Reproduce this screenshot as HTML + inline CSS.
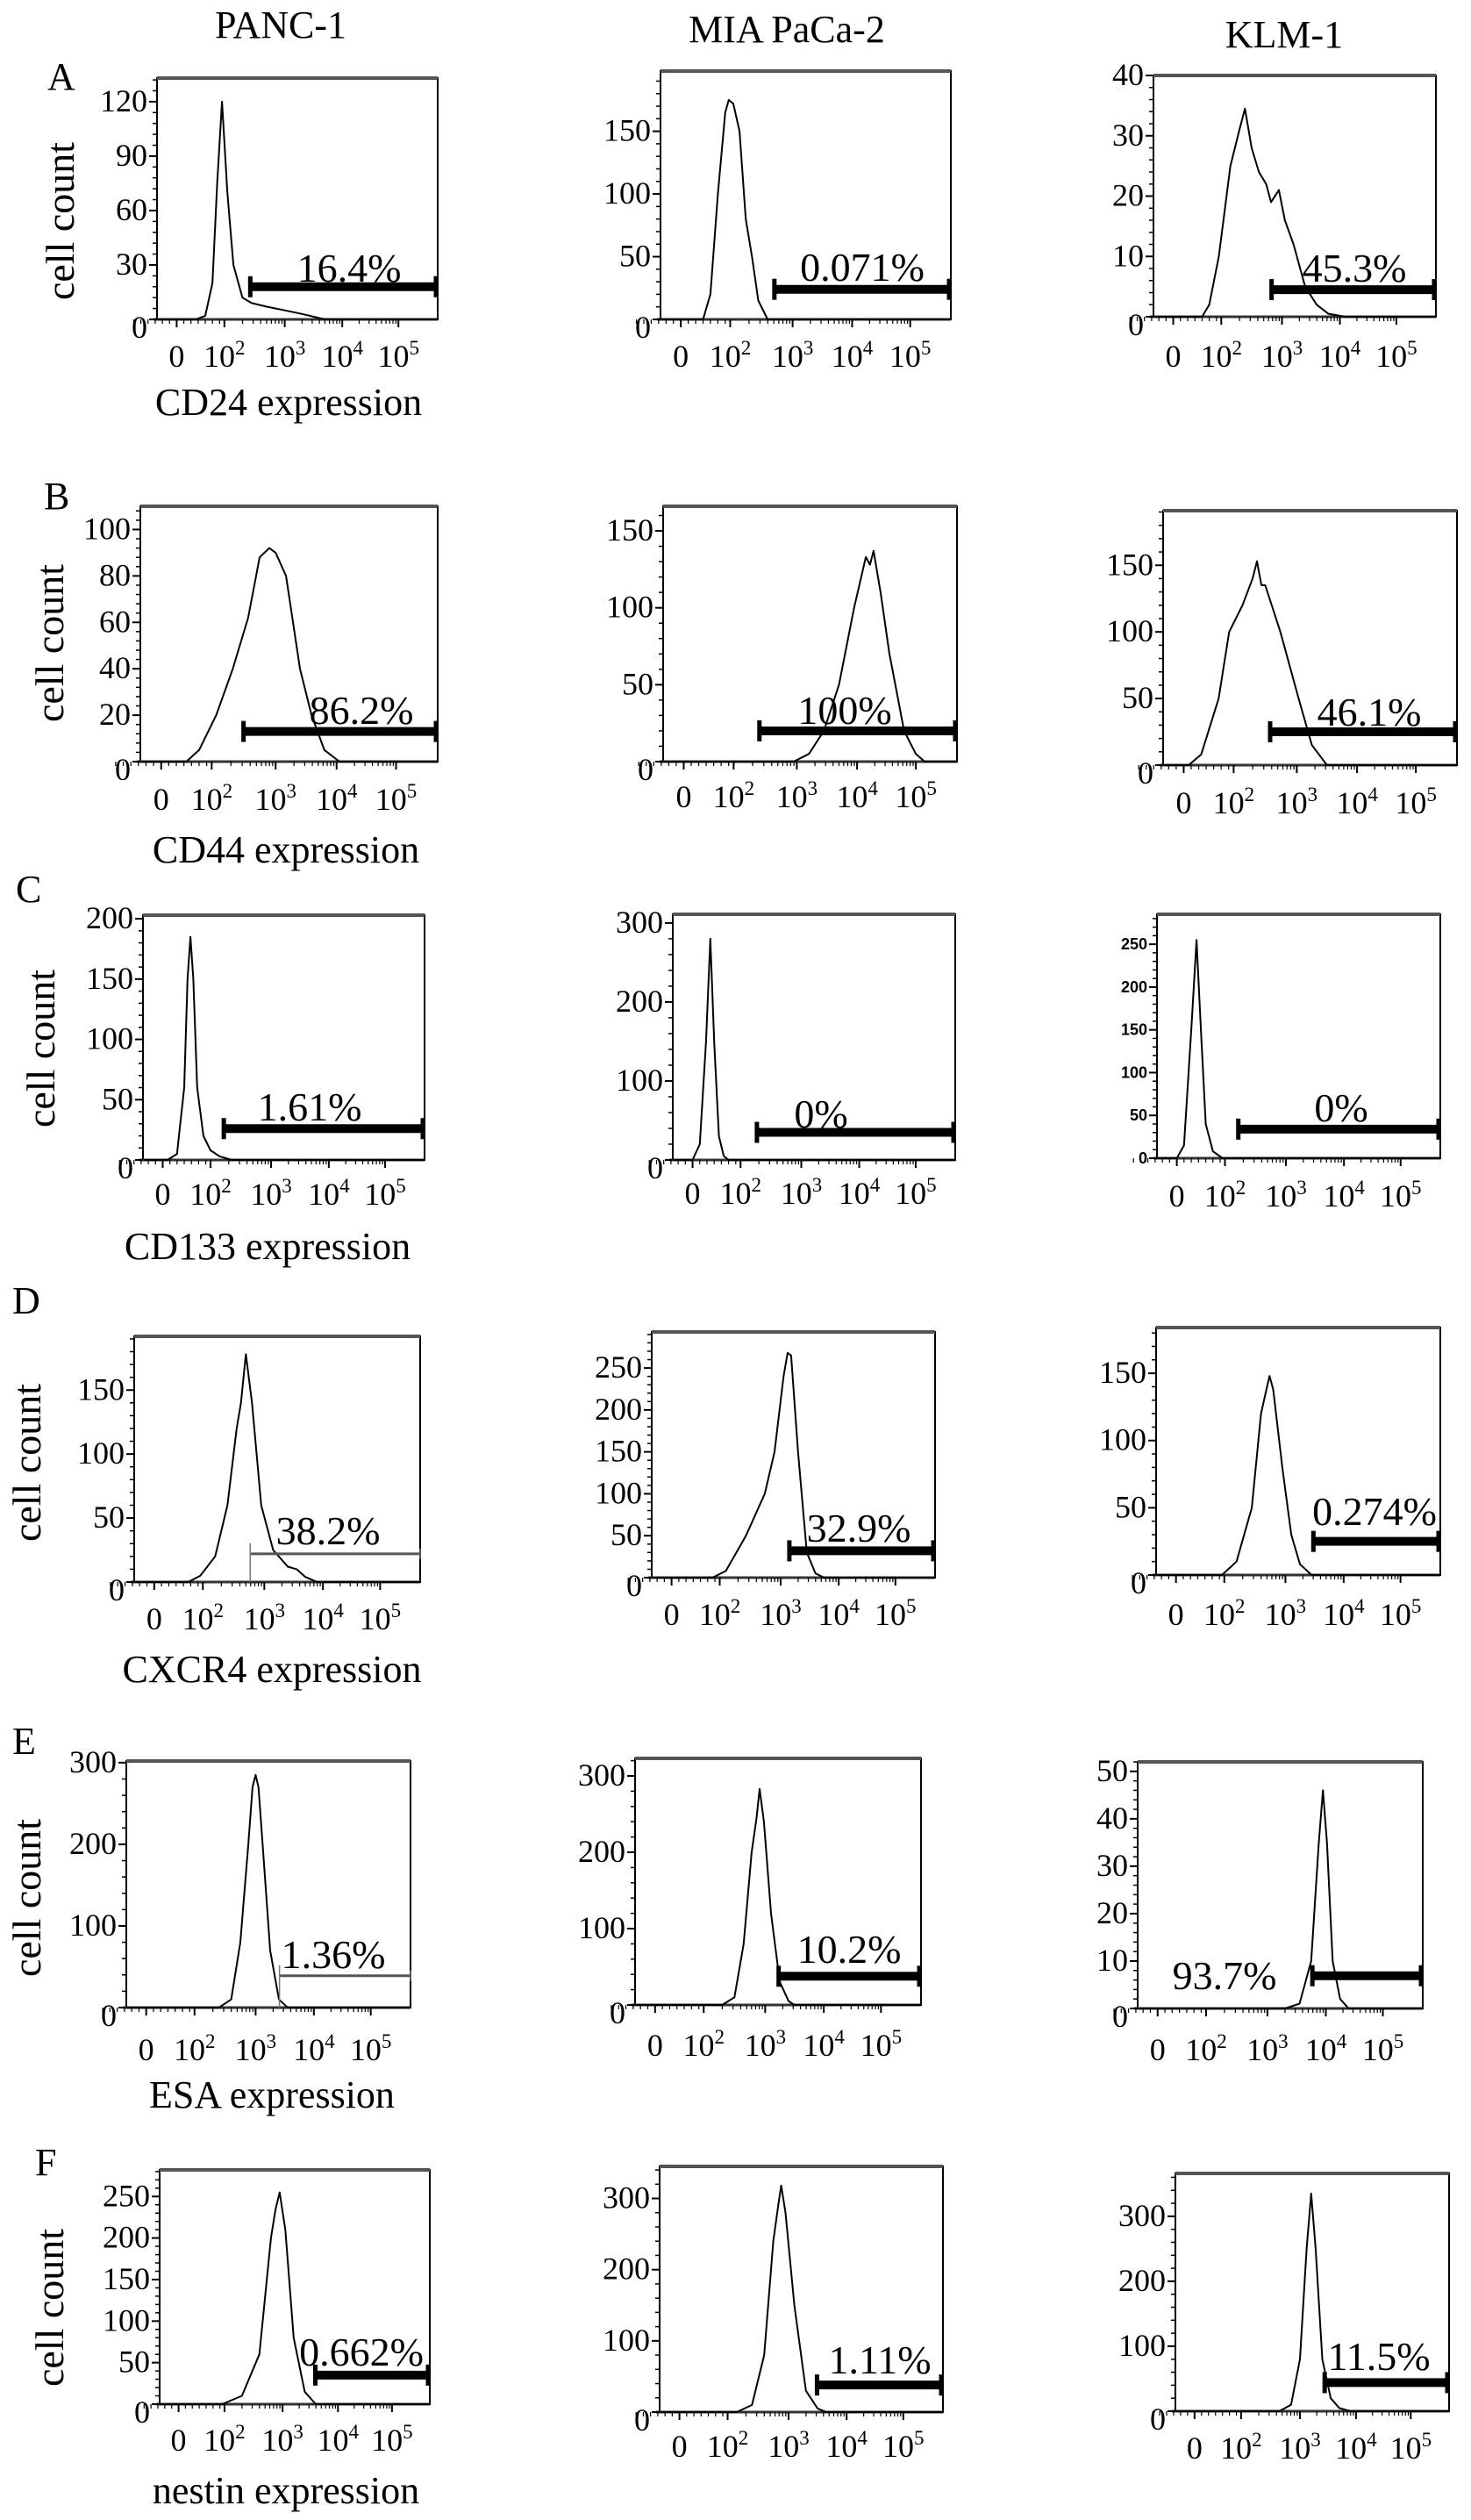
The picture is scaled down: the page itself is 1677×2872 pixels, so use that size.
<!DOCTYPE html>
<html><head><meta charset="utf-8">
<style>
html,body{margin:0;padding:0;background:#fff;}
svg{display:block;font-family:"Liberation Serif",serif;}
text,tspan{font-family:"Liberation Serif",serif;}
text.sans{font-family:"Liberation Sans",sans-serif;}
</style></head>
<body>
<svg id="fig" xmlns="http://www.w3.org/2000/svg" width="1677" height="2872" viewBox="0 0 1677 2872" font-family="Liberation Serif, serif">
<rect width="1677" height="2872" fill="#fff"/>
<g font-size="44" text-anchor="middle">
<text x="320" y="43">PANC-1</text>
<text x="897" y="48">MIA PaCa-2</text>
<text x="1464" y="54">KLM-1</text>
</g>
<g font-size="44">
<text x="54" y="102">A</text>
<text x="50" y="580">B</text>
<text x="18" y="1028">C</text>
<text x="14" y="1497">D</text>
<text x="14" y="1999">E</text>
<text x="40" y="2479">F</text>
</g>
<g font-size="44" text-anchor="middle">
<text x="329" y="473">CD24 expression</text>
<text x="326" y="983">CD44 expression</text>
<text x="305" y="1435">CD133 expression</text>
<text x="310" y="1917">CXCR4 expression</text>
<text x="310" y="2402">ESA expression</text>
<text x="326" y="2853">nestin expression</text>
</g>
<g font-size="46" text-anchor="middle">
<text transform="translate(84,252) rotate(-90)">cell count</text>
<text transform="translate(72,733) rotate(-90)">cell count</text>
<text transform="translate(62,1195) rotate(-90)">cell count</text>
<text transform="translate(46,1667) rotate(-90)">cell count</text>
<text transform="translate(46,2163) rotate(-90)">cell count</text>
<text transform="translate(72,2630) rotate(-90)">cell count</text>
</g>
<g id="plots"></g>
</svg>
<script>
const xTickLabels = ["0","10|2","10|3","10|4","10|5"];
const A1_x=[-0.4,0.4,0.6,0.75,0.85,0.95,1.05,1.15,1.3,1.45,1.7,2.0,2.3,2.7,4.7];
const A1_y=[0,0,2,20,75,120,70,30,12,9,7,5,3,0,0];
const A2_x=[-0.4,0.45,0.6,0.75,0.9,0.97,1.05,1.15,1.25,1.35,1.45,1.6,4.7];
const A2_y=[0,0,20,100,165,175,172,150,80,50,15,0,0];
const A3_x=[-0.4,0.6,0.75,0.95,1.15,1.3,1.39,1.5,1.62,1.74,1.82,1.95,2.05,2.2,2.4,2.6,2.8,3.1,4.7];
const A3_y=[0,0,2,10,25,31,34.5,28,24,22,19,21,16,12,5,2,0.5,0,0];
const B1_x=[-0.4,0.5,0.75,1.07,1.33,1.57,1.75,1.9,2.0,2.17,2.4,2.59,2.8,3.05,4.7];
const B1_y=[0,0,5,20,40,62,88,92,90,80,40,20,5,0,0];
const B2_x=[-0.4,1.95,2.2,2.45,2.7,2.95,3.15,3.22,3.28,3.4,3.55,3.65,3.8,4.0,4.15,4.7];
const B2_y=[0,0,5,20,50,100,133,128,137,110,70,50,20,5,0,0];
const B3_x=[-0.4,0.1,0.35,0.7,0.91,1.14,1.3,1.37,1.44,1.5,1.74,2.03,2.25,2.5,4.7];
const B3_y=[0,0,8,50,100,120,140,153,135,135,100,50,15,0,0];
const C1_x=[-0.4,0.1,0.3,0.45,0.52,0.58,0.64,0.72,0.85,1.0,1.15,1.35,4.7];
const C1_y=[0,0,5,60,150,185,150,60,20,8,3,0,0];
const C2_x=[-0.4,0.0,0.15,0.28,0.37,0.45,0.55,0.65,0.75,4.7];
const C2_y=[0,0,20,150,280,150,30,5,0,0];
const C3_x=[-0.4,0.0,0.15,0.3,0.41,0.5,0.6,0.75,0.95,4.7];
const C3_y=[0,0,15,150,255,150,40,8,0,0];
const D1_x=[-0.4,0.7,0.95,1.2,1.4,1.55,1.62,1.7,1.8,1.95,2.15,2.4,2.55,2.7,2.9,4.7];
const D1_y=[0,0,5,20,60,120,140,178,140,60,25,12,10,4,0,0];
const D2_x=[-0.4,0.85,1.1,1.43,1.74,1.9,2.05,2.12,2.18,2.3,2.45,2.6,2.75,4.7];
const D2_y=[0,0,8,50,100,150,240,268,265,150,30,5,0,0];
const D3_x=[-0.4,0.95,1.2,1.45,1.6,1.7,1.74,1.8,1.95,2.1,2.25,2.45,4.7];
const D3_y=[0,0,10,50,120,140,148,138,80,30,8,0,0];
const E1_x=[-0.4,1.4,1.6,1.75,1.88,1.95,2.0,2.05,2.12,2.25,2.4,2.55,4.7];
const E1_y=[0,0,10,80,200,270,285,270,200,70,10,0,0];
const E2_x=[-0.4,1.3,1.5,1.65,1.78,1.86,1.91,1.98,2.1,2.25,2.4,2.5,4.7];
const E2_y=[0,0,10,80,200,245,283,240,120,30,5,0,0];
const E3_x=[-0.4,2.3,2.55,2.75,2.88,2.95,3.02,3.12,3.25,3.4,4.7];
const E3_y=[0,0,1,10,35,46,35,10,2,0,0];
const F1_x=[-0.4,0.95,1.3,1.6,1.8,1.88,1.95,2.05,2.2,2.4,2.6,4.7];
const F1_y=[0,0,10,60,200,235,255,210,80,15,0,0];
const F2_x=[-0.4,1.15,1.4,1.6,1.75,1.83,1.88,1.95,2.1,2.3,2.5,2.65,4.7];
const F2_y=[0,0,10,80,240,290,318,280,150,30,5,0,0];
const F3_x=[-0.4,1.65,1.85,2.0,2.12,2.2,2.28,2.4,2.55,2.7,2.9,4.7];
const F3_y=[0,0,10,80,250,335,250,80,20,5,0,0];
const ticks30=[0,30,60,90,120], ticks50s=[0,50,100,150], ticks10=[0,10,20,30,40];
const ticks20=[0,20,40,60,80,100], ticks100=[0,100,200,300];
const ticks50m=[0,50,100,150,200], ticks50l=[0,50,100,150,200,250], ticks10e=[0,10,20,30,40,50];
const A1_gate=[18,1.4,4.7], A2_gate=[24,1.68,4.7], A3_gate=[4.5,1.8,4.7];
const B1_gate=[13,1.47,4.7], B2_gate=[20,1.38,4.7], B3_gate=[25,1.55,4.7];
const C1_gate=[26,1.19,4.7], C2_gate=[35,1.24,4.7], C3_gate=[34,1.19,4.7];
const D1_gate=[22,1.77,4.7], D2_gate=[32,2.12,4.7], D3_gate=[25,2.45,4.7];
const E1_gate=[39,2.41,4.7], E2_gate=[37.6,2.2,4.7], E3_gate=[6.9,2.74,4.7];
const F1_gate=[35,2.56,4.7], F2_gate=[38,2.46,4.7], F3_gate=[44,2.41,4.7];
const pctLabels=["16.4%","0.071%","45.3%","86.2%","100%","46.1%","1.61%","0%","0%","38.2%","32.9%","0.274%","1.36%","10.2%","93.7%","0.662%","1.11%","11.5%"];

const panels=[
 {id:'a1',L:179,R:499,T:89,B:364,ymax:133,yt:ticks30,xs:A1_x,ys:A1_y,g:A1_gate,lx:398,ly:321,tl:418},
 {id:'a2',L:753,R:1084,T:81,B:364,ymax:198,yt:ticks50s,xs:A2_x,ys:A2_y,g:A2_gate,lx:983,ly:320,tl:418},
 {id:'a3',L:1315,R:1637,T:86,B:361,ymax:40,yt:ticks10,xs:A3_x,ys:A3_y,g:A3_gate,lx:1544,ly:321,tl:418},
 {id:'b1',L:160,R:499,T:577,B:868,ymax:110,yt:ticks20,xs:B1_x,ys:B1_y,g:B1_gate,lx:412,ly:825,tl:923},
 {id:'b2',L:756,R:1091,T:577,B:868,ymax:166,yt:ticks50s,xs:B2_x,ys:B2_y,g:B2_gate,lx:963,ly:825,tl:920},
 {id:'b3',L:1326,R:1661,T:582,B:872,ymax:191,yt:ticks50s,xs:B3_x,ys:B3_y,g:B3_gate,lx:1561,ly:827,tl:927},
 {id:'c1',L:163,R:484,T:1043,B:1322,ymax:203,yt:ticks50m,xs:C1_x,ys:C1_y,g:C1_gate,lx:353,ly:1277,tl:1373},
 {id:'c2',L:767,R:1089,T:1042,B:1322,ymax:311,yt:ticks100,xs:C2_x,ys:C2_y,g:C2_gate,lx:936,ly:1285,tl:1372},
 {id:'c3',L:1319,R:1642,T:1042,B:1320,ymax:285,yt:ticks50l,xs:C3_x,ys:C3_y,g:C3_gate,lx:1529,ly:1278,tl:1375,small:true},
 {id:'d1',L:153,R:479,T:1523,B:1803,ymax:192,yt:ticks50s,xs:D1_x,ys:D1_y,g:D1_gate,lx:374,ly:1760,tl:1857,thin:true},
 {id:'d2',L:743,R:1066,T:1518,B:1798,ymax:293,yt:ticks50l,xs:D2_x,ys:D2_y,g:D2_gate,lx:979,ly:1757,tl:1852},
 {id:'d3',L:1318,R:1642,T:1513,B:1795,ymax:184,yt:ticks50s,xs:D3_x,ys:D3_y,g:D3_gate,lx:1567,ly:1738,tl:1852},
 {id:'e1',L:144,R:468,T:2007,B:2288,ymax:302,yt:ticks100,xs:E1_x,ys:E1_y,g:E1_gate,lx:380,ly:2243,tl:2348,thin:true},
 {id:'e2',L:724,R:1050,T:2004,B:2285,ymax:323,yt:ticks100,xs:E2_x,ys:E2_y,g:E2_gate,lx:968,ly:2237,tl:2343},
 {id:'e3',L:1297,R:1622,T:2008,B:2289,ymax:52,yt:ticks10e,xs:E3_x,ys:E3_y,g:E3_gate,lx:1396,ly:2267,tl:2348},
 {id:'f1',L:182,R:490,T:2473,B:2740,ymax:282,yt:ticks50l,xs:F1_x,ys:F1_y,g:F1_gate,lx:412,ly:2696,tl:2793},
 {id:'f2',L:752,R:1075,T:2469,B:2749,ymax:345,yt:ticks100,xs:F2_x,ys:F2_y,g:F2_gate,lx:1003,ly:2705,tl:2800},
 {id:'f3',L:1340,R:1652,T:2477,B:2748,ymax:366,yt:ticks100,xs:F3_x,ys:F3_y,g:F3_gate,lx:1572,ly:2701,tl:2802}
];

const NS="http://www.w3.org/2000/svg";
const FP=[0.07,0.24,0.455,0.66,0.86];
function frac(p){
  if(p<=0) return FP[0]+p*0.17;
  if(p>=4) return FP[4]+(p-4)*0.2;
  const i=Math.floor(p), t=p-i;
  return FP[i]+(FP[i+1]-FP[i])*t;
}
function mk(tag,attrs,parent){
  const e=document.createElementNS(NS,tag);
  for(const k in attrs) e.setAttribute(k,attrs[k]);
  parent.appendChild(e); return e;
}
const root=document.getElementById('plots');
panels.forEach((P,idx)=>{
  const W=P.R-P.L, H=P.B-P.T;
  const X=p=>Math.min(P.R,P.L+W*frac(p));
  const Y=v=>P.B-(v/P.ymax)*H;
  const g=mk('g',{},root);
  
  
  const box=mk('rect',{x:P.L,y:P.T,width:W,height:H,fill:'none',stroke:'#000','stroke-width':2},g);
  
  
  const top=mk('line',{x1:P.L,y1:P.T,x2:P.R,y2:P.T,stroke:'#555','stroke-width':4},g);
  
  
  const base=mk('line',{x1:P.L-4,y1:P.B,x2:P.R,y2:P.B,stroke:'#333','stroke-width':3},g);
  
  
  const step=P.yt[1]-P.yt[0];
  for(let v=0;v<=P.ymax+0.001;v+=step/5){
    const major=Math.abs(v/step-Math.round(v/step))<1e-6;
    const t=mk('line',{x1:P.L-(major?9:5),x2:P.L,y1:Y(v),y2:Y(v),stroke:'#000','stroke-width':major?2:1.5},g);
    
    
  }
  P.yt.forEach(v=>{
    const t=mk('text',{x:P.L-11,y:Y(v)+(P.small?6:11)+(v===0&&!P.small?10:0),'text-anchor':'end','font-size':P.small?18:36},g);
    if(P.small){t.setAttribute('class','sans');t.setAttribute('font-family','Liberation Sans, sans-serif');t.setAttribute('font-weight','bold');}
    t.textContent=String(v);
    
    
  });
  for(let d=0; d<=4; d++){
    const mj=mk('line',{x1:X(d),x2:X(d),y1:P.B,y2:P.B+9,stroke:'#000','stroke-width':2},g);
    
    
    if(d>=1 && d<4){
      for(let k=2;k<10;k++){
        const p=d+Math.log10(k);
        const mn=mk('line',{x1:X(p),x2:X(p),y1:P.B,y2:P.B+5,stroke:'#000','stroke-width':1.2},g);
        
        
      }
    }
  }
  for(let q=-0.9;q<0.95;q+=0.15){
    const mn=mk('line',{x1:X(q),x2:X(q),y1:P.B,y2:P.B+5,stroke:'#000','stroke-width':1.2},g);
    
    
  }
  xTickLabels.forEach((lab,i)=>{
    const t=mk('text',{x:X(i),y:P.tl,'text-anchor':'middle','font-size':36},g);
    const parts=lab.split('|');
    t.appendChild(document.createTextNode(parts[0]));
    if(parts[1]){
      const s=mk('tspan',{'font-size':23,dy:-14},t);
      s.textContent=parts[1];
    }
    
    
  });
  let d='';
  P.xs.forEach((p,i)=>{ d+=(i?'L':'M')+X(p).toFixed(1)+','+Y(P.ys[i]).toFixed(1); });
  const path=mk('path',{d:d,fill:'none',stroke:'#000','stroke-width':2,'stroke-linejoin':'round'},g);
  
  
  const gy=Y(P.g[0]), gx0=X(P.g[1]), gx1=Math.min(P.R,X(P.g[2]));
  const gg=mk('g',{},g);
  
  
  if(P.thin){
    mk('line',{x1:gx0,x2:gx1,y1:gy,y2:gy,stroke:'#555','stroke-width':3},gg);
    mk('line',{x1:gx0,x2:gx0,y1:gy-12,y2:P.B,stroke:'#777','stroke-width':1.5},gg);
    mk('line',{x1:gx1,x2:gx1,y1:gy-6,y2:gy+6,stroke:'#555','stroke-width':2},gg);
  } else {
    mk('line',{x1:gx0,x2:gx1,y1:gy,y2:gy,stroke:'#000','stroke-width':10},gg);
    mk('line',{x1:gx0+2,x2:gx0+2,y1:gy-12,y2:gy+12,stroke:'#000','stroke-width':5},gg);
    mk('line',{x1:gx1-2,x2:gx1-2,y1:gy-12,y2:gy+12,stroke:'#000','stroke-width':5},gg);
  }
  const lt=mk('text',{x:P.lx,y:P.ly,'text-anchor':'middle','font-size':46},g);
  lt.textContent=pctLabels[idx];
  
  
});
</script>
</body></html>
